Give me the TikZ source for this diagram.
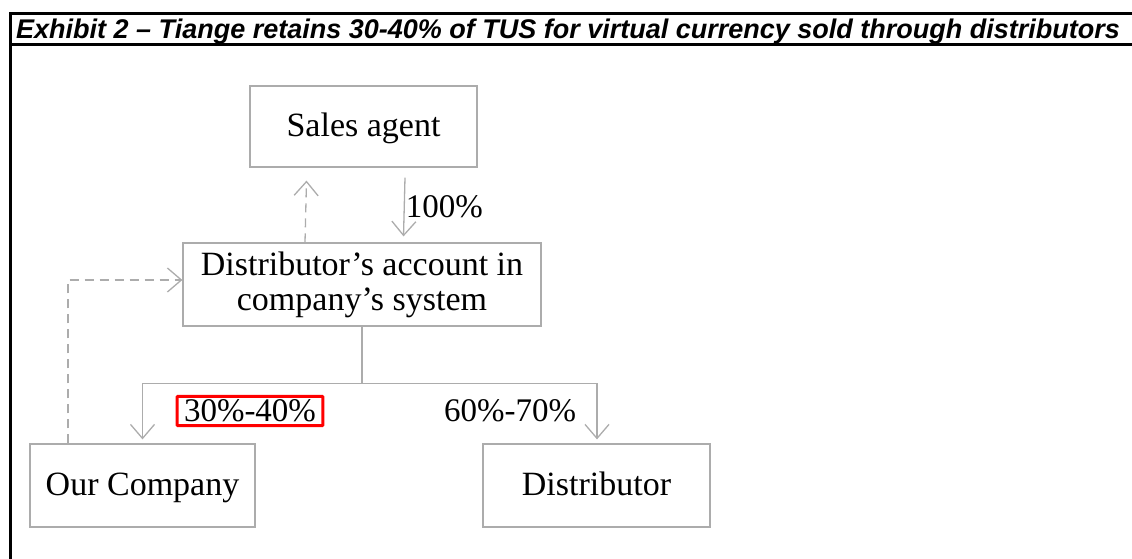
\documentclass[tikz,border=0pt]{standalone}
\usepackage{fontspec}
\setmainfont{Liberation Serif}
\newfontfamily\titlefont{Liberation Sans}
\usepackage{tikz}
\usetikzlibrary{positioning, arrows.meta}

\begin{document}
\begin{tikzpicture}[x=1pt, y=-1pt, node distance=2cm]
        \tikzstyle{block} = [rectangle, draw=gray!65, line width=1.2pt, align=center, inner sep=0pt, font=\fontsize{34}{35}\selectfont]
        \tikzstyle{single} = [block, text height=22pt, text depth=2pt]
        \tikzstyle{arrow} = [draw=gray!65, line width=1.3pt, -{Straight Barb[length=14pt, width=24pt]}]
        \tikzstyle{dasharrow} = [arrow, dash pattern=on 9pt off 6pt]
        \tikzstyle{pct} = [font=\fontsize{33}{34}\selectfont, inner sep=2pt]

        \useasboundingbox (0,0) rectangle (1132,559);

        % frame and title
        \draw [line width=3pt] (1132,14) -- (10,14) -- (10,559);
        \draw [line width=3pt] (10,45) -- (1132,45);
        \node [anchor=base west, inner sep=0pt, font=\titlefont\bfseries\itshape\fontsize{27}{28}\selectfont] (title) at (16,39) {Exhibit 2 – Tiange retains 30-40\% of TUS for virtual currency sold through distributors};

        \node [single, minimum width=227pt, minimum height=81pt] (agent) at (363.5,126.5) {Sales agent};
        \node [block, minimum width=358pt, minimum height=83pt] (account) at (362,284.5) {\raisebox{-2pt}{Distributor’s account in}\\\raisebox{-2pt}{company’s system}};
        \node [single, minimum width=225pt, minimum height=83pt] (ours) at (142.5,485.5) {Our Company};
        \node [single, minimum width=227pt, minimum height=83pt] (dist) at (596.5,485.5) {Distributor};

        \draw [dasharrow] ([xshift=-57pt]account.north) -- ([xshift=-57pt, yshift=-13pt]agent.south);
        \draw [arrow] ([xshift=41.5pt, yshift=-10pt]agent.south) -- ([xshift=41.5pt, yshift=6pt]account.north)
            node [pct, midway, right, inner sep=1pt] {100\%};

        \draw [arrow] (account.south) -- ++(0,57) -| ([yshift=4pt]ours.north);
        \draw [arrow] (account.south) -- ++(0,57) -| ([xshift=0.5pt, yshift=4pt]dist.north);
        \node [pct, draw=red, line width=3pt, rounded corners=1pt, inner xsep=7pt, inner ysep=3.5pt] (low) at (250,411) {30\%-40\%};
        \node [pct] (high) at (510,411) {60\%-70\%};

        \draw [dasharrow] ([xshift=-74.5pt]ours.north) |- ([yshift=4.5pt]account.west);
    \end{tikzpicture}
\end{document}
